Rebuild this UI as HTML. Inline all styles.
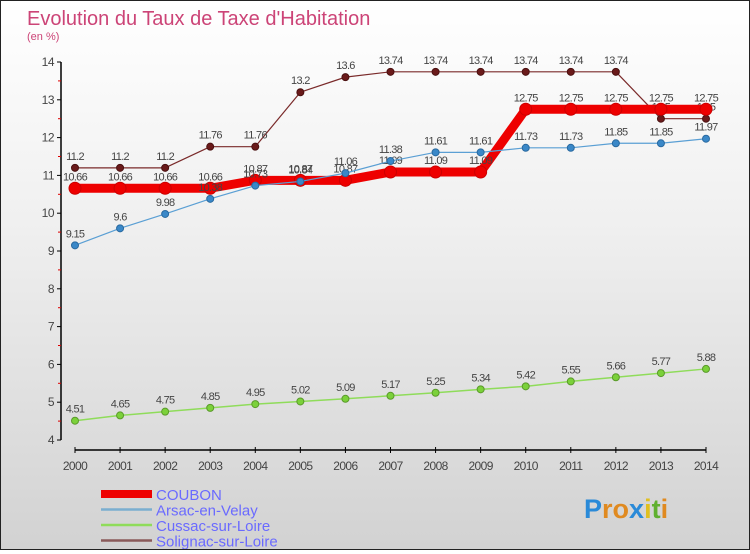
<!DOCTYPE html>
<html><head><meta charset="utf-8"><style>
html,body{margin:0;padding:0}
body{width:750px;height:550px;overflow:hidden;font-family:"Liberation Sans",sans-serif}
#c{position:relative;width:748px;height:548px;border:1px solid #222;background:linear-gradient(#ffffff 0%,#f0f0f0 40%,#d2d2d2 100%)}
</style></head><body>
<div id="c">
<svg id="s" width="748" height="548"></svg>
</div>
<script>
const years=[2000,2001,2002,2003,2004,2005,2006,2007,2008,2009,2010,2011,2012,2013,2014];
const coubon=[10.66,10.66,10.66,10.66,10.87,10.87,10.87,11.09,11.09,11.09,12.75,12.75,12.75,12.75,12.75];
const arsac=[9.15,9.6,9.98,10.38,10.73,10.84,11.06,11.38,11.61,11.61,11.73,11.73,11.85,11.85,11.97];
const cussac=[4.51,4.65,4.75,4.85,4.95,5.02,5.09,5.17,5.25,5.34,5.42,5.55,5.66,5.77,5.88];
const solignac=[11.2,11.2,11.2,11.76,11.76,13.2,13.6,13.74,13.74,13.74,13.74,13.74,13.74,12.5,12.5];
const yTicks=[4,5,6,7,8,9,10,11,12,13,14];
const NS="http://www.w3.org/2000/svg";
const s=document.getElementById('s');
function X(i){return 74+i*(705-74)/(years.length-1);}
function Y(v){return 439-(v-4)*(439-61)/10;}
function el(t,a,p){const e=document.createElementNS(NS,t);for(const k in a)e.setAttribute(k,a[k]);(p||s).appendChild(e);return e;}
let t=el('text',{x:26,y:24,'font-size':20,fill:'#cc4477'});t.textContent="Evolution du Taux de Taxe d'Habitation";

t=el('text',{x:26,y:39,'font-size':11,fill:'#cc4477'});t.textContent="(en %)";

let a=el('line',{x1:60,y1:61,x2:60,y2:439,stroke:'#000','stroke-width':1.5});

yTicks.forEach((v,i)=>{
 el('line',{x1:56,y1:Y(v),x2:60,y2:Y(v),stroke:'#000'});
 if(i<yTicks.length-1) el('line',{x1:57,y1:Y(v+0.5),x2:60,y2:Y(v+0.5),stroke:'#d00'});
 const tt=el('text',{x:53,y:Y(v)+4,'font-size':12,fill:'#444','text-anchor':'end','letter-spacing':'-0.5'});tt.textContent=v;
 
});
a=el('line',{x1:74,y1:449,x2:705,y2:449,stroke:'#000','stroke-width':1.5});

years.forEach((y,i)=>{
 el('line',{x1:X(i),y1:446,x2:X(i),y2:452,stroke:'#000'});
 const tt=el('text',{x:X(i),y:469,'font-size':12,fill:'#444','text-anchor':'middle','letter-spacing':'-0.6'});tt.textContent=y;
 
});
function series(data,color,w,r,dot,stroke,name,labelDy){
 const g=el('g',{});
 
 el('polyline',{points:data.map((v,i)=>X(i)+','+Y(v)).join(' '),fill:'none',stroke:color,'stroke-width':w,'stroke-linejoin':'round'},g);
 data.forEach((v,i)=>{
  const c=el('circle',{cx:X(i),cy:Y(v),r:r,fill:dot,stroke:stroke,'stroke-width':1},g);
  
  const tt=el('text',{x:X(i),y:Y(v)+labelDy,'font-size':11,fill:'#444','text-anchor':'middle','letter-spacing':'-0.7'},g);tt.textContent=v;
  
 });
}
series(cussac,'#8fdc5a',1.5,3.5,'#7bd13a','#5a9a2a','cussac',-8);
series(solignac,'#7a2a2a',1.2,3.5,'#6a1a1a','#4a1010','solignac',-8);
series(coubon,'#ee0000',9,6,'#ee0000','#cc0000','coubon',-8);
series(arsac,'#5a9fd4',1.2,3.5,'#3a88c8','#2a6aa0','arsac',-8);
const leg=[['COUBON','#ee0000',8],['Arsac-en-Velay','#7aaed0',2.5],['Cussac-sur-Loire','#8fdc5a',2.5],['Solignac-sur-Loire','#8a5a5a',2.5]];
leg.forEach((l,i)=>{
 const y=493+i*15.5;
 const g=el('g',{});
 el('line',{x1:100,y1:y,x2:151,y2:y,stroke:l[1],'stroke-width':l[2]},g);
 const tt=el('text',{x:155,y:y+6,'font-size':15,fill:'#6a6aff'},g);tt.textContent=l[0];
});
t=el('text',{x:583,y:517,'font-size':27,'font-weight':'bold'});

[['P','#2a8ad8'],['r','#e08a20'],['o','#e08a20'],['x','#2a8ad8'],['i','#e0c020'],['t','#60b030'],['i','#e08a20']].forEach(p=>{const ts=el('tspan',{fill:p[1]},t);ts.textContent=p[0];});
</script>
</body></html>
